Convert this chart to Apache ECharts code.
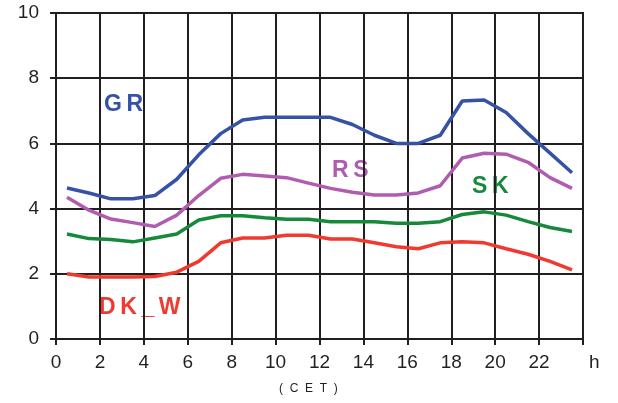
<!DOCTYPE html>
<html><head><meta charset="utf-8">
<script src="https://cdn.jsdelivr.net/npm/echarts@6/dist/echarts.min.js"></script>
<style>html,body{margin:0;padding:0;background:#fff}#c{width:618px;height:403px}</style>
</head><body><div id="c"></div>
<script>
var hours = [0.5,1.5,2.5,3.5,4.5,5.5,6.5,7.5,8.5,9.5,10.5,11.5,12.5,13.5,14.5,15.5,16.5,17.5,18.5,19.5,20.5,21.5,22.5,23.5];
var GR  = [4.63,4.48,4.3,4.3,4.4,4.9,5.65,6.3,6.72,6.8,6.8,6.8,6.8,6.58,6.25,6.0,6.0,6.25,7.3,7.33,6.95,6.3,5.7,5.1];
var RS  = [4.35,3.95,3.68,3.57,3.45,3.8,4.4,4.93,5.05,5.0,4.95,4.78,4.62,4.5,4.42,4.42,4.48,4.7,5.55,5.7,5.67,5.42,4.95,4.62];
var SK  = [3.22,3.08,3.05,2.98,3.1,3.22,3.65,3.78,3.78,3.72,3.67,3.67,3.6,3.6,3.6,3.55,3.55,3.6,3.82,3.9,3.8,3.6,3.42,3.3];
var DKW = [2.0,1.9,1.9,1.9,1.92,2.05,2.38,2.95,3.1,3.1,3.18,3.18,3.07,3.07,2.95,2.83,2.77,2.95,2.98,2.95,2.77,2.6,2.38,2.12];
var xTicks = [0,2,4,6,8,10,12,14,16,18,20,22];
var yTicks = [0,2,4,6,8,10];
var seriesNames = ['GR','RS','SK','DK_W'];
var seriesData = [GR,RS,SK,DKW];
var colors = ['#3652a6','#b05db0','#17893b','#ef3a30'];

function pairs(arr){ return hours.map(function(h,i){ return [h, arr[i]]; }); }

var chart = echarts.init(document.getElementById('c'));
var lineCol = '#231f20';
var F = '"Liberation Sans", Arial';
chart.setOption({
  animation:false,
  grid:{left:56,right:35,top:13,bottom:64,show:true,borderColor:lineCol,borderWidth:2},
  xAxis:{type:'value',min:0,max:24,interval:2,
    axisLine:{show:true,lineStyle:{color:lineCol,width:2}},
    axisTick:{show:true,length:6,lineStyle:{color:lineCol,width:2}},
    splitLine:{show:true,lineStyle:{color:lineCol,width:2}},
    axisLabel:{color:'#231f20',fontFamily:F,fontSize:19,margin:14,
      formatter:function(v){ return xTicks.indexOf(v)>=0 ? String(v) : ''; }}
  },
  yAxis:{type:'value',min:0,max:10,interval:2,
    axisLine:{show:true,lineStyle:{color:lineCol,width:2}},
    axisTick:{show:true,length:6,lineStyle:{color:lineCol,width:2}},
    splitLine:{show:true,lineStyle:{color:lineCol,width:2}},
    axisLabel:{color:'#231f20',fontFamily:F,fontSize:19,margin:17,
      formatter:function(v){ return yTicks.indexOf(v)>=0 ? String(v) : ''; }}
  },
  series: seriesNames.map(function(n,i){
    return {name:n,type:'line',data:pairs(seriesData[i]),symbol:'none',
      lineStyle:{color:colors[i],width:3.5},z:3};
  }),
  graphic:[
    {type:'text',left:104,top:93,style:{text:'G\u2009R',fill:colors[0],font:'bold 23px '+F}},
    {type:'text',left:332,top:159,style:{text:'R\u2009S',fill:colors[1],font:'bold 23px '+F}},
    {type:'text',left:472,top:175,style:{text:'S\u2009K',fill:colors[2],font:'bold 23px '+F}},
    {type:'text',left:99,top:296,style:{text:'D\u2009K\u2009_\u2009W',fill:colors[3],font:'bold 23px '+F}},
    {type:'text',left:589,top:353,style:{text:'h',fill:'#231f20',font:'19px '+F}},
    {type:'text',left:279,top:383,style:{text:'(  C  E  T  )',fill:'#231f20',font:'12px '+F}}
  ]
});
</script></body></html>
